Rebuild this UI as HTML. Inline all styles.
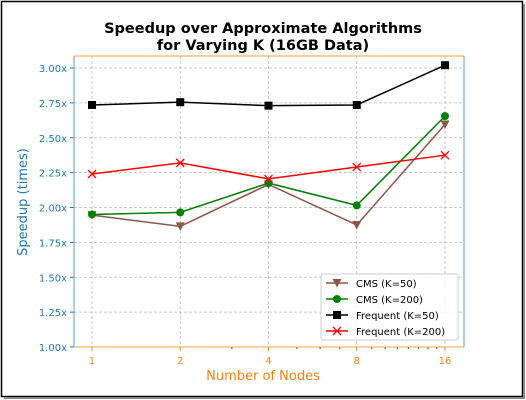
<!DOCTYPE html>
<html><head><meta charset="utf-8"><style>
body{margin:0;background:#fff;}
svg{display:block;font-family:"DejaVu Sans","Liberation Sans",sans-serif;}
</style></head><body>
<svg id="chart" width="526" height="400">
<rect x="1.5" y="1.5" width="521" height="395" fill="#fff" stroke="#000" stroke-width="1.5"/>
<rect x="523" y="4" width="2" height="395" fill="#888"/><rect x="4" y="397" width="521" height="2" fill="#888"/>
<text x="263" y="33" text-anchor="middle" font-weight="bold" font-size="14.5">Speedup over Approximate Algorithms</text>
<text x="263" y="50" text-anchor="middle" font-weight="bold" font-size="14.5">for Varying K (16GB Data)</text>
<g id="grid"></g><g id="axes"></g><g id="series"></g>
<text x="263" y="380" text-anchor="middle" font-size="13" fill="#ff7f0e">Number of Nodes</text>
<text transform="translate(27,202) rotate(-90)" text-anchor="middle" font-size="13" fill="#1f77b4">Speedup (times)</text>
<g id="legend"></g>
</svg>
<script>
const categories=[1,2,4,8,16];
const cmsK50=[1.945,1.865,2.165,1.875,2.595];
const cmsK200=[1.95,1.965,2.175,2.015,2.655];
const freqK50=[2.735,2.755,2.73,2.735,3.02];
const freqK200=[2.24,2.32,2.205,2.29,2.375];
const yTicks=[1.00,1.25,1.50,1.75,2.00,2.25,2.50,2.75,3.00];
const seriesNames=["CMS (K=50)","CMS (K=200)","Frequent (K=50)","Frequent (K=200)"];
const NS="http://www.w3.org/2000/svg";
const L=74,R=464,T=56,B=347;
const xs=v=>92+(Math.log2(v)/4)*(445-92);
const ys=v=>347-(v-1)/2*(347-68);
function mk(tag,at,parent){const e=document.createElementNS(NS,tag);for(const k in at)e.setAttribute(k,at[k]);parent.appendChild(e);return e;}
const grid=document.getElementById('grid'),axes=document.getElementById('axes'),ser=document.getElementById('series'),leg=document.getElementById('legend');
yTicks.forEach(t=>{const y=ys(t);
 const g=mk('line',{x1:L,x2:R,y1:y,y2:y,stroke:'#bbb','stroke-dasharray':'3,2','stroke-width':0.8},grid);
 
 mk('line',{x1:L-4,x2:L,y1:y,y2:y,stroke:'#1f77b4'},axes);
 const tx=mk('text',{x:L-7,y:y+4,'text-anchor':'end','font-size':10,fill:'#1f77b4'},axes);tx.textContent=t.toFixed(2)+'x';
 });
categories.forEach(c=>{const x=xs(c);
 const g=mk('line',{x1:x,x2:x,y1:T,y2:B,stroke:'#bbb','stroke-dasharray':'3,2','stroke-width':0.8},grid);
 
 mk('line',{x1:x,x2:x,y1:B,y2:B+4,stroke:'#ff7f0e'},axes);
 const tx=mk('text',{x:x,y:B+17,'text-anchor':'middle','font-size':10,fill:'#ff7f0e'},axes);tx.textContent=c;
 });
[3,5,6,7,9,10,11,12,13,14,15].forEach(m=>{const x=xs(m);mk('line',{x1:x,x2:x,y1:B,y2:B+2,stroke:'#333'},axes);});
mk('line',{x1:L,x2:R,y1:T,y2:T,stroke:'#ffa040'},axes);
mk('line',{x1:L,x2:R,y1:B,y2:B,stroke:'#ffa040'},axes);
mk('line',{x1:L,x2:L,y1:T,y2:B,stroke:'#5b9bd5'},axes);
mk('line',{x1:R,x2:R,y1:T,y2:B,stroke:'#5b9bd5'},axes);
function marker(type,x,y,col,p){
 if(type==='v'){return mk('path',{d:`M${x-4.5},${y-4} L${x+4.5},${y-4} L${x},${y+4.5}Z`,fill:col},p);}
 if(type==='o'){return mk('circle',{cx:x,cy:y,r:4,fill:col},p);}
 if(type==='s'){return mk('rect',{x:x-4,y:y-4,width:8,height:8,fill:col},p);}
 return mk('path',{d:`M${x-4},${y-4}L${x+4},${y+4}M${x-4},${y+4}L${x+4},${y-4}`,stroke:col,'stroke-width':1.3,fill:'none'},p);}
const defs=[[cmsK50,'#8c564b','v','cms-k50'],[cmsK200,'#008000','o','cms-k200'],[freqK50,'#000','s','frequent-k50'],[freqK200,'#ff0000','x','frequent-k200']];
defs.forEach(([vals,col,m,name])=>{
 const g=mk('g',{},ser);
 const pl=mk('polyline',{points:vals.map((v,i)=>xs(categories[i])+','+ys(v)).join(' '),fill:'none',stroke:col,'stroke-width':1.5},g);
 
 vals.forEach((v,i)=>{const e=marker(m,xs(categories[i]),ys(v),col,g);});});
const lb=mk('rect',{x:321,y:274,width:137,height:66,fill:'#fff','fill-opacity':0.85,stroke:'#ccc',rx:2},leg);

defs.forEach(([vals,col,m,name],i)=>{const y=283+i*16;
 const g=mk('g',{},leg);
 mk('line',{x1:326,x2:348,y1:y,y2:y,stroke:col,'stroke-width':1.5},g);marker(m,337,y,col,g);
 const t=mk('text',{x:356,y:y+4,'font-size':10,fill:'#000'},g);t.textContent=seriesNames[i];});
</script>
</body></html>
